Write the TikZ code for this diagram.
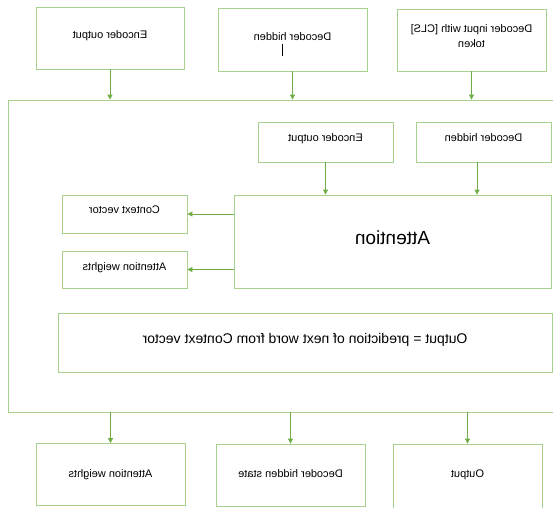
\documentclass[tikz,border=0pt]{standalone}
\usepackage{fontspec}
\setmainfont{Liberation Sans}
\usetikzlibrary{arrows.meta}

\definecolor{boxgreen}{HTML}{A9D18E}
\definecolor{arrowgreen}{HTML}{70AD47}

% lift the label a little inside its box
\newcommand{\upText}[2][2pt]{\raisebox{#1}[\height][\depth]{\begin{tabular}{@{}c@{}}#2\end{tabular}}}

\begin{document}
\begin{tikzpicture}[x=-1pt, y=-1pt, xscale=-1, every node/.append style={transform shape}]

\useasboundingbox (0,0) rectangle (553,507);
\clip (0,0) rectangle (553,507);

%boxes
\tikzstyle{blockbox} = [draw=boxgreen, line width=0.8pt, rectangle, align=center, inner sep=0pt, font=\fontsize{11}{13}\selectfont]
\tikzstyle{flowarrow} = [draw=arrowgreen, line width=0.8pt, -{Triangle[length=5pt,width=5pt]}]

%inputs
\node (encTop) [blockbox, minimum width=148pt, minimum height=62pt] at (110,38)     {\upText{Encoder output}};
\node (decTop) [blockbox, minimum width=149pt, minimum height=63pt] at (292.5,39.5) {\upText[-5pt]{Decoder hidden\\\hspace*{20pt}\rule[-2pt]{0.9pt}{12pt}}};
\node (inTop)  [blockbox, minimum width=149pt, minimum height=62pt] at (471.5,40)   {\upText[3pt]{Decoder input with [CLS]\\[2pt]token}};

%decoder step
\node (frame)  [blockbox, minimum width=552pt, minimum height=312pt] at (284,256) {};
\node (encIn)  [blockbox, minimum width=135pt, minimum height=40pt] at (325.5,142) {\upText[3pt]{Encoder output}};
\node (decIn)  [blockbox, minimum width=135pt, minimum height=40pt] at (483.5,142) {\upText[3pt]{Decoder hidden}};
\node (attn)   [blockbox, minimum width=317pt, minimum height=93pt, font=\fontsize{19}{22}\selectfont] at (392.5,241.5) {\upText[1pt]{Attention}};
\node (ctx)    [blockbox, minimum width=125pt, minimum height=38pt] at (124.5,214)   {\upText[3pt]{Context vector}};
\node (attwIn) [blockbox, minimum width=125pt, minimum height=37pt] at (124.5,269.5) {\upText[1.5pt]{Attention weights}};
\node (pred)   [blockbox, minimum width=494pt, minimum height=59pt, font=\fontsize{14}{17}\selectfont] at (305,342.5) {\upText{Output = prediction of next word from Context vector}};

%outputs
\node (attwOut)  [blockbox, minimum width=149pt, minimum height=62pt] at (110.5,474.5) {\upText[0pt]{Attention weights}};
\node (decState) [blockbox, minimum width=149pt, minimum height=62pt] at (290.5,475)   {\upText[0pt]{Decoder hidden state}};
\node (outBox)   [blockbox, minimum width=149pt, minimum height=68pt] at (467.5,478)   {\upText[3pt]{Output}};

%arrows
\draw [flowarrow] (encTop) -- (encTop.south |- frame.north);
\draw [flowarrow] (decTop) -- (decTop.south |- frame.north);
\draw [flowarrow] (inTop)  -- (inTop.south |- frame.north);
\draw [flowarrow] (encIn)  -- (encIn.south |- attn.north);
\draw [flowarrow] ([xshift=6.5pt]decIn.south) -- ([xshift=6.5pt]decIn.south |- attn.north);
\draw [flowarrow] (attn.east |- ctx)    -- (ctx);
\draw [flowarrow] (attn.east |- attwIn) -- (attwIn);
\draw [flowarrow] (frame.south -| attwOut)  -- (attwOut);
\draw [flowarrow] (frame.south -| decState) -- (decState);
\draw [flowarrow] (frame.south -| outBox)   -- (outBox);

\end{tikzpicture}
\end{document}
